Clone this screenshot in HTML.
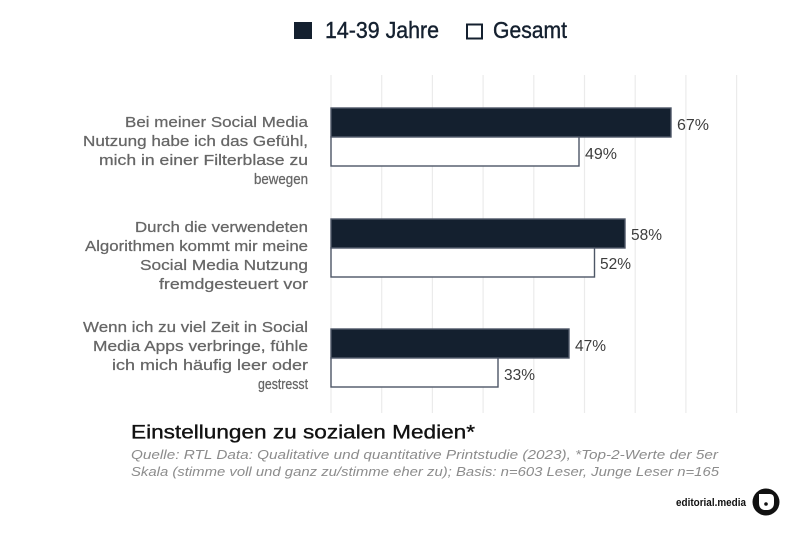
<!DOCTYPE html>
<html>
<head>
<meta charset="utf-8">
<style>
  html,body{margin:0;padding:0;background:#fff;}
  svg{display:block;}
  text{font-family:"Liberation Sans", sans-serif;}
</style>
</head>
<body>
<svg width="800" height="533" viewBox="0 0 800 533" xmlns="http://www.w3.org/2000/svg">
  <rect width="800" height="533" fill="#fff"/>

  <!-- Legend -->
  <rect x="294" y="22" width="18" height="17" fill="#14202f"/>
  <text x="325" y="38" font-size="23" fill="#14202f" stroke="#14202f" stroke-width="0.4" textLength="114" lengthAdjust="spacingAndGlyphs">14-39 Jahre</text>
  <rect x="467" y="24.5" width="15" height="14" fill="#fff" stroke="#14202f" stroke-width="2"/>
  <text x="493" y="38" font-size="23" fill="#14202f" stroke="#14202f" stroke-width="0.4" textLength="74" lengthAdjust="spacingAndGlyphs">Gesamt</text>

  <!-- Gridlines -->
  <g stroke="#ebebeb" stroke-width="1.2">
    <line x1="331" y1="75" x2="331" y2="413"/>
    <line x1="381.7" y1="75" x2="381.7" y2="413"/>
    <line x1="432.4" y1="75" x2="432.4" y2="413"/>
    <line x1="483.1" y1="75" x2="483.1" y2="413"/>
    <line x1="533.8" y1="75" x2="533.8" y2="413"/>
    <line x1="584.5" y1="75" x2="584.5" y2="413"/>
    <line x1="635.2" y1="75" x2="635.2" y2="413"/>
    <line x1="685.9" y1="75" x2="685.9" y2="413"/>
    <line x1="736.6" y1="75" x2="736.6" y2="413"/>
  </g>

  <!-- Bars -->
  <g stroke="#4d5666" stroke-width="1.4">
    <rect x="331" y="108" width="340" height="29" fill="#14202f"/>
    <rect x="331" y="137" width="248" height="29" fill="#fff"/>
    <rect x="331" y="219" width="294" height="29" fill="#14202f"/>
    <rect x="331" y="248" width="263.5" height="29" fill="#fff"/>
    <rect x="331" y="329" width="238" height="29" fill="#14202f"/>
    <rect x="331" y="358" width="167" height="29" fill="#fff"/>
  </g>

  <!-- Value labels -->
  <g font-size="16" fill="#3d3d3d">
    <text x="677" y="130" textLength="32" lengthAdjust="spacingAndGlyphs">67%</text>
    <text x="585" y="159" textLength="32" lengthAdjust="spacingAndGlyphs">49%</text>
    <text x="631" y="240" textLength="31" lengthAdjust="spacingAndGlyphs">58%</text>
    <text x="600" y="269" textLength="31" lengthAdjust="spacingAndGlyphs">52%</text>
    <text x="575" y="351" textLength="31" lengthAdjust="spacingAndGlyphs">47%</text>
    <text x="504" y="380" textLength="31" lengthAdjust="spacingAndGlyphs">33%</text>
  </g>

  <!-- Category labels -->
  <g font-size="15" fill="#666" stroke="#666" stroke-width="0.25" text-anchor="end">
    <text x="308" y="127" textLength="183" lengthAdjust="spacingAndGlyphs">Bei meiner Social Media</text>
    <text x="308" y="146" textLength="225" lengthAdjust="spacingAndGlyphs">Nutzung habe ich das Gefühl,</text>
    <text x="308" y="165" textLength="209" lengthAdjust="spacingAndGlyphs">mich in einer Filterblase zu</text>
    <text x="308" y="184" textLength="54" lengthAdjust="spacingAndGlyphs">bewegen</text>

    <text x="308" y="232" textLength="173" lengthAdjust="spacingAndGlyphs">Durch die verwendeten</text>
    <text x="308" y="251" textLength="223" lengthAdjust="spacingAndGlyphs">Algorithmen kommt mir meine</text>
    <text x="308" y="270" textLength="168" lengthAdjust="spacingAndGlyphs">Social Media Nutzung</text>
    <text x="308" y="289" textLength="149" lengthAdjust="spacingAndGlyphs">fremdgesteuert vor</text>

    <text x="308" y="332" textLength="225" lengthAdjust="spacingAndGlyphs">Wenn ich zu viel Zeit in Social</text>
    <text x="308" y="351" textLength="215" lengthAdjust="spacingAndGlyphs">Media Apps verbringe, fühle</text>
    <text x="308" y="370" textLength="196" lengthAdjust="spacingAndGlyphs">ich mich häufig leer oder</text>
    <text x="308" y="389" textLength="50" lengthAdjust="spacingAndGlyphs">gestresst</text>
  </g>

  <!-- Title & caption -->
  <text x="131" y="438.5" font-size="19.5" fill="#111" stroke="#111" stroke-width="0.35" textLength="344" lengthAdjust="spacingAndGlyphs">Einstellungen zu sozialen Medien*</text>
  <text x="131" y="459" font-size="13" font-style="italic" fill="#8c8c8c" textLength="587" lengthAdjust="spacingAndGlyphs">Quelle: RTL Data: Qualitative und quantitative Printstudie (2023), *Top-2-Werte der 5er</text>
  <text x="131" y="476" font-size="13" font-style="italic" fill="#8c8c8c" textLength="588" lengthAdjust="spacingAndGlyphs">Skala (stimme voll und ganz zu/stimme eher zu); Basis: n=603 Leser, Junge Leser n=165</text>

  <!-- Logo -->
  <text x="676" y="506" font-size="11" font-weight="bold" fill="#111" textLength="70" lengthAdjust="spacingAndGlyphs">editorial.media</text>
  <circle cx="766" cy="502" r="13.5" fill="#111"/>
  <path d="M759 494 L770 494 Q774 494 774 499 L774 503 Q774 509 768 510 L764 510 Q759 509 759 503 Z" fill="#fff"/>
  <circle cx="766" cy="504" r="1.8" fill="#111"/>
</svg>
</body>
</html>
